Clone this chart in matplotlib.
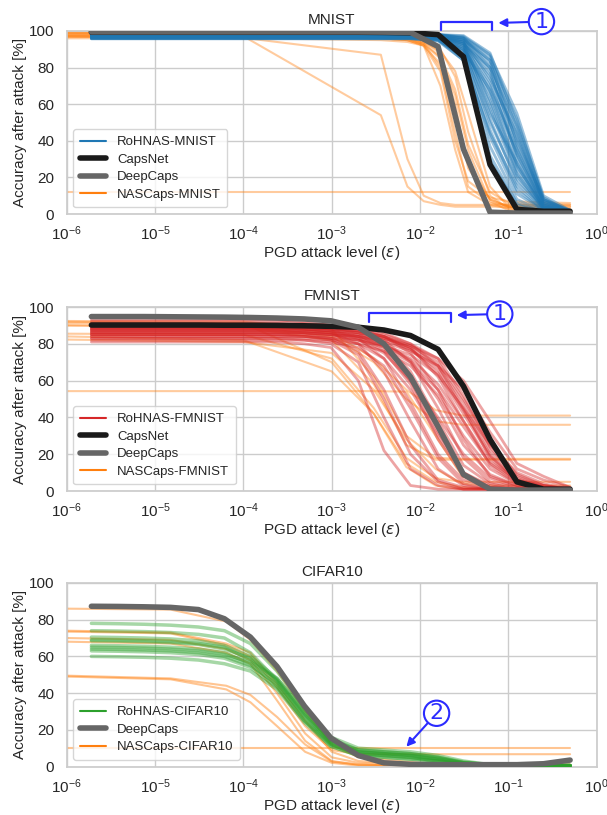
import matplotlib
matplotlib.use("Agg")
import matplotlib.pyplot as plt
import seaborn as sns
from matplotlib.lines import Line2D

sns.set_theme(style="whitegrid")
plt.rcParams["font.family"] = ["Liberation Sans", "DejaVu Sans"]

# PGD attack levels used for RoHNAS / CapsNet / DeepCaps
eps = [1.9e-6, 3.8e-6, 7.6e-6, 1.5e-5, 3.1e-5, 6.1e-5, 1.2e-4, 2.4e-4, 4.9e-4, 9.8e-4,
       2.0e-3, 3.9e-3, 7.8e-3, 1.6e-2, 3.1e-2, 6.2e-2, 0.125, 0.25, 0.5]

# ---------------- MNIST ----------------
capsnet_mnist = [99.3, 99.3, 99.3, 99.3, 99.3, 99.3, 99.3, 99.3, 99.3, 99.3,
                 99.3, 99.2, 99.0, 98.0, 86.0, 27.0, 2.5, 1.5, 1.5]
deepcaps_mnist = [99.5, 99.5, 99.5, 99.5, 99.5, 99.5, 99.5, 99.5, 99.5, 99.5,
                  99.5, 99.4, 99.2, 91.5, 35.5, 1.0, 0.5, 0.5, 0.5]
# clean accuracy (flat part up to 7.8e-3) and values for eps >= 1.6e-2
mnist_rohnas_clean = [98.8, 98.5, 97.8, 97.3, 96.8, 96.2, 95.7, 97.5, 98.9, 98.0, 97.0,
                      96.5, 98.6, 97.8, 95.9, 97.2, 99.0, 96.4, 96.0, 98.3, 97.6, 96.9,
                      98.1, 97.4, 96.6, 98.4, 95.8, 97.9]
mnist_rohnas_tail = [
    [98, 97.5, 88, 50, 9, 1], [98, 96, 82, 42, 7, 1], [97, 94, 72, 32, 5, 0.5],
    [96.5, 92, 62, 24, 4, 1], [96, 90, 52, 17, 3, 0.5], [95, 87, 42, 11, 2, 1],
    [94.5, 84, 32, 6, 1, 0.5], [96.5, 93, 76, 40, 8, 2], [98, 96.5, 86, 46, 6, 1],
    [97, 95, 78, 30, 4, 1], [96, 91, 57, 21, 3, 0.5], [96, 89, 46, 13, 2, 1],
    [97.5, 96, 84, 38, 7, 2], [97, 94, 67, 27, 3, 1], [95, 86, 37, 8, 1.5, 0.5],
    [97, 92, 70, 35, 5, 1], [98, 97, 87, 55, 10, 2], [96, 90, 50, 19, 3, 1],
    [95.5, 85, 29, 5, 1, 0.5], [97.5, 95, 74, 44, 6, 1], [97, 93, 80, 48, 8, 1.5],
    [96.5, 91, 65, 26, 4, 1], [97.5, 94, 60, 22, 3, 1], [97, 93, 55, 28, 4, 0.5],
    [96, 89, 68, 33, 5, 1], [98, 96, 80, 36, 6, 1], [95, 84, 44, 15, 2, 0.5],
    [97, 95, 84, 52, 8, 1],
]
nas_eps_mnist = [1e-6, 1.1e-4, 3.6e-3, 7.2e-3, 1.1e-2, 1.7e-2, 2.5e-2, 3.5e-2, 6.2e-2, 0.1, 0.5]
nascaps_mnist = [
    [97, 96, 87, 30, 10, 6, 5, 5, 5, 5, 4],
    [97, 96, 54, 15, 7, 5, 4, 4, 4, 4, 4],
    [12, 12, 12, 12, 12, 12, 12, 12, 12, 12, 12],
    [99, 99, 98, 97, 94, 88, 60, 25, 8, 4, 2],
    [98, 98, 97, 96, 93, 80, 45, 15, 6, 5, 5],
    [97, 97, 96, 95, 92, 70, 35, 12, 5, 3, 2],
    [99, 98, 98, 97, 95, 90, 75, 45, 10, 3, 1],
    [98, 97, 96, 95, 93, 85, 65, 35, 7, 2, 1],
    [96, 96, 95, 94, 92, 78, 40, 18, 9, 7, 6],
    [98, 98, 97, 96, 94, 89, 78, 55, 15, 4, 1],
    [97, 97, 96, 95, 92, 82, 55, 28, 8, 4, 3],
    [99, 98, 97, 96, 93, 86, 68, 38, 12, 6, 5],
]

# ---------------- FMNIST ----------------
capsnet_fmnist = [90.2, 90.2, 90.2, 90.2, 90.2, 90.1, 90.1, 90.0, 89.8, 89.5,
                  89.0, 87.5, 84.5, 77.0, 57.0, 28.0, 5.0, 1.0, 1.0]
deepcaps_fmnist = [94.8, 94.8, 94.8, 94.7, 94.6, 94.5, 94.3, 94.0, 93.5, 92.5,
                   89.0, 80.0, 62.0, 35.0, 9.0, 1.0, 0.5, 0.5, 0.5]
# clean accuracy (flat part up to 2.4e-4) and values for eps >= 4.9e-4
fmnist_rohnas_clean = [81, 83, 85, 87, 88, 89, 90, 93, 89, 88, 86,
                       87, 84, 82, 90, 86, 85, 83, 92, 84, 88, 86,
                       91, 89, 87, 90, 85, 88]
fmnist_rohnas_tail = [
    [80, 78, 60, 22, 3, 1, 1, 1, 1, 1, 1],
    [82, 80, 70, 40, 12, 3, 1, 1, 1, 1, 1],
    [85, 83, 76, 55, 25, 6, 2, 1, 1, 1, 1],
    [87, 86, 80, 65, 38, 12, 3, 1, 1, 1, 1],
    [88, 87, 83, 72, 48, 20, 6, 2, 1, 1, 1],
    [89, 88, 85, 78, 60, 32, 10, 3, 1, 1, 1],
    [90, 89, 87, 82, 70, 45, 18, 5, 2, 1, 1],
    [92, 90, 88, 84, 75, 55, 28, 8, 3, 1, 1],
    [89, 88, 87, 84, 78, 62, 38, 14, 4, 2, 1],
    [88, 87, 86, 83, 78, 68, 48, 22, 8, 3, 1],
    [86, 85, 84, 81, 76, 68, 55, 32, 12, 6, 2],
    [87, 86, 85, 83, 79, 72, 60, 38, 15, 8, 2],
    [84, 83, 80, 72, 55, 30, 10, 2, 1, 1, 1],
    [82, 81, 78, 68, 45, 18, 4, 1, 1, 1, 1],
    [90, 89, 86, 80, 65, 38, 14, 4, 1, 1, 1],
    [86, 85, 82, 75, 60, 40, 20, 7, 2, 1, 1],
    [85, 84, 82, 78, 70, 55, 35, 15, 5, 2, 1],
    [83, 82, 80, 76, 68, 52, 30, 12, 4, 1, 1],
    [91, 90, 89, 86, 80, 68, 45, 18, 5, 2, 1],
    [84, 82, 74, 50, 20, 5, 1, 1, 1, 1, 1],
    [88, 87, 84, 76, 58, 28, 8, 2, 1, 1, 1],
    [86, 85, 83, 79, 72, 58, 38, 16, 6, 3, 1],
    [90, 89, 88, 85, 80, 72, 52, 24, 7, 2, 1],
    [88, 87, 86, 84, 79, 70, 50, 26, 9, 3, 1],
    [86, 85, 84, 82, 77, 66, 44, 20, 6, 2, 1],
    [89, 88, 87, 84, 77, 64, 42, 19, 6, 2, 1],
    [84, 83, 82, 79, 74, 63, 45, 25, 10, 4, 1],
    [87, 86, 84, 80, 71, 50, 25, 9, 3, 1, 1],
]
nas_eps_fmnist = [1e-6, 1e-4, 1e-3, 3e-3, 7e-3, 1.5e-2, 3e-2, 6e-2, 0.1, 0.5]
nascaps_fmnist = [
    [92.4, 92, 88, 62, 30, 18, 17.5, 17.5, 17.5, 17.5],
    [91.3, 91, 86, 72, 55, 44, 41, 41, 41, 41],
    [90, 89.5, 84, 70, 50, 38, 36, 36, 36, 36],
    [85.5, 85, 72, 45, 18, 7, 5, 5, 5, 5],
    [84, 82, 65, 42, 13, 3, 1, 1, 1, 1],
    [82.3, 81, 75, 55, 28, 12, 4, 3, 3, 3],
    [54.3, 54.3, 54.3, 54.3, 54, 30, 8, 2, 1, 1],
    [90, 89, 82, 58, 25, 17, 17, 17, 17, 17],
    [92, 91, 70, 42, 15, 5, 2, 1, 1, 1],
]

# ---------------- CIFAR10 ----------------
deepcaps_cifar = [87.3, 87.2, 87.0, 86.7, 85.5, 80.5, 70.5, 54.5, 33.0, 15.5,
                  6.0, 2.0, 1.2, 1.0, 1.0, 1.0, 1.0, 1.5, 3.5]
cifar_rohnas = [
    [78, 77.8, 77.5, 77, 76, 74, 67, 52, 32, 16, 10, 9, 8, 6, 3, 1, 0.5, 0.5, 0.5],
    [74, 73.8, 73.5, 73, 72, 70, 62, 47, 28, 13, 8, 7, 6, 4, 2, 1, 0.5, 0.5, 0.5],
    [70.5, 70.3, 70, 69.5, 68.5, 66, 60, 48, 30, 14, 9, 8, 7, 5, 2.5, 1, 0.5, 0.5, 0.5],
    [69, 68.8, 68.5, 68, 67, 65, 58, 46, 27, 12, 7, 6, 5, 3, 1.5, 0.5, 0.5, 0.5, 0.5],
    [66, 65.8, 65.5, 65, 64, 62, 56, 44, 25, 11, 6, 5, 4, 3, 1.5, 0.5, 0.5, 0.5, 0.5],
    [65, 64.8, 64.5, 64, 63, 61, 57, 48, 31, 15, 9, 8, 7, 5, 2, 1, 0.5, 0.5, 0.5],
    [64, 63.8, 63.5, 63, 62, 60, 55, 45, 28, 13, 8, 7, 6, 4, 2, 1, 0.5, 0.5, 0.5],
    [63, 62.8, 62.5, 62, 61, 59, 54, 43, 25, 12, 7, 6, 5, 3, 1.5, 0.5, 0.5, 0.5, 0.5],
    [60, 59.8, 59.5, 59, 58, 56, 52, 42, 24, 11, 6, 5, 4, 3, 1, 0.5, 0.5, 0.5, 0.5],
    [68.5, 68.3, 68, 67.5, 66.5, 64, 59, 47, 29, 14, 8, 7, 6, 4.5, 2, 1, 0.5, 0.5, 0.5],
]
nas_eps_cifar = [1e-6, 1.5e-5, 6.4e-5, 1.2e-4, 2.4e-4, 5e-4, 1e-3, 2e-3, 1e-2, 0.1, 0.5]
nascaps_cifar = [
    [86, 85.5, 79, 69, 52, 30, 12, 5, 2, 1, 1],
    [74, 73, 67, 62, 45, 25, 8, 3, 1, 0.5, 0.5],
    [73.5, 72.5, 66, 60, 43, 22, 9, 6.7, 6.7, 6.7, 6.7],
    [70, 69, 64, 58, 40, 18, 5, 2, 1, 1, 1],
    [68, 67, 62, 56, 36, 14, 3, 1, 0.5, 0.5, 0.5],
    [49.5, 48, 44, 39, 27, 12, 2.7, 1, 0.5, 0.5, 0.5],
    [49, 47.5, 42, 35, 22, 8, 2, 0.5, 0.5, 0.5, 0.5],
    [10.3, 10.3, 10.3, 10.3, 10.3, 10.3, 10.3, 10.3, 10.3, 10.3, 10.3],
]

BLUE, RED, GREEN, ORANGE = "#1f77b4", "#d62728", "#2ca02c", "#ff7f0e"
BLACK, GRAY = "#1a1a1a", "#666666"
ANN = "#2b2bff"

fig = plt.figure(figsize=(6.07, 8.15), dpi=100)
ax1 = fig.add_axes([0.110, 0.7374, 0.873, 0.2246])
ax2 = fig.add_axes([0.110, 0.3975, 0.873, 0.2258])
ax3 = fig.add_axes([0.110, 0.0595, 0.873, 0.2252])


def style_axes(ax, title):
    ax.set_xscale("log")
    ax.set_xlim(1e-6, 1)
    ax.set_ylim(0, 100)
    ax.set_yticks([0, 20, 40, 60, 80, 100])
    ax.set_title(title, fontsize=11, pad=5)
    ax.set_xlabel(r"PGD attack level ($\varepsilon$)", fontsize=11, labelpad=1)
    ax.set_ylabel("Accuracy after attack [%]", fontsize=11, labelpad=1)
    ax.tick_params(axis="x", labelsize=11, pad=1.5)
    ax.tick_params(axis="y", labelsize=11, pad=3)
    ax.grid(True, which="major")
    ax.grid(False, which="minor")


def legend(ax, entries):
    handles = [Line2D([0], [0], color=c, lw=w) for _, c, w in entries]
    ax.legend(handles, [n for n, _, _ in entries], loc="lower left", fontsize=9.5,
              handlelength=2.0, labelspacing=0.4, borderpad=0.5)


# MNIST
for r in nascaps_mnist:
    ax1.plot(nas_eps_mnist, r, color=ORANGE, alpha=0.4, lw=1.5, zorder=2)
for c, t in zip(mnist_rohnas_clean, mnist_rohnas_tail):
    ax1.plot(eps, [c] * 13 + t, color=BLUE, alpha=0.45, lw=2, zorder=3)
ax1.plot(eps, capsnet_mnist, color=BLACK, lw=4, zorder=4)
ax1.plot(eps, deepcaps_mnist, color=GRAY, lw=4, zorder=5)
style_axes(ax1, "MNIST")
legend(ax1, [("RoHNAS-MNIST", BLUE, 1.5), ("CapsNet", BLACK, 4),
             ("DeepCaps", GRAY, 4), ("NASCaps-MNIST", ORANGE, 1.5)])

# FMNIST
for r in nascaps_fmnist:
    ax2.plot(nas_eps_fmnist, r, color=ORANGE, alpha=0.4, lw=1.5, zorder=2)
for c, t in zip(fmnist_rohnas_clean, fmnist_rohnas_tail):
    ax2.plot(eps, [c] * 8 + t, color=RED, alpha=0.42, lw=2, zorder=3)
ax2.plot(eps, capsnet_fmnist, color=BLACK, lw=4, zorder=4)
ax2.plot(eps, deepcaps_fmnist, color=GRAY, lw=4, zorder=5)
style_axes(ax2, "FMNIST")
legend(ax2, [("RoHNAS-FMNIST", RED, 1.5), ("CapsNet", BLACK, 4),
             ("DeepCaps", GRAY, 4), ("NASCaps-FMNIST", ORANGE, 1.5)])

# CIFAR10
for r in nascaps_cifar:
    ax3.plot(nas_eps_cifar, r, color=ORANGE, alpha=0.45, lw=1.5, zorder=2)
for r in cifar_rohnas:
    ax3.plot(eps, r, color=GREEN, alpha=0.42, lw=2.5, zorder=3)
ax3.plot(eps, deepcaps_cifar, color=GRAY, lw=4, zorder=5)
style_axes(ax3, "CIFAR10")
legend(ax3, [("RoHNAS-CIFAR10", GREEN, 1.5), ("DeepCaps", GRAY, 4),
             ("NASCaps-CIFAR10", ORANGE, 1.5)])

# annotations (brackets + numbered circles)
circ = dict(boxstyle="circle,pad=0.12", fc="white", ec=ANN, lw=1.5)
arrow = dict(arrowstyle="-|>", color=ANN, lw=1.5, mutation_scale=12, shrinkA=0, shrinkB=0)

ax1.plot([0.0172, 0.0172, 0.066, 0.066], [100.5, 105.1, 105.1, 100.5],
         color=ANN, lw=1.6, clip_on=False, zorder=6)
ax1.annotate("1", xy=(0.077, 104.4), xytext=(0.237, 105.1), color=ANN, fontsize=16,
             ha="center", va="center", bbox=circ, arrowprops=arrow,
             annotation_clip=False, family="DejaVu Sans")

ax2.plot([2.63e-3, 2.63e-3, 0.0227, 0.0227], [92, 96.6, 96.6, 92],
         color=ANN, lw=1.6, clip_on=False, zorder=6)
ax2.annotate("1", xy=(0.026, 95.6), xytext=(0.080, 96.2), color=ANN, fontsize=16,
             ha="center", va="center", bbox=circ, arrowprops=arrow,
             annotation_clip=False, family="DejaVu Sans")

ax3.annotate("2", xy=(7.0e-3, 10.8), xytext=(0.0154, 29), color=ANN, fontsize=16,
             ha="center", va="center", bbox=circ, arrowprops=arrow,
             annotation_clip=False, family="DejaVu Sans")

fig.savefig("out.png", dpi=100)
